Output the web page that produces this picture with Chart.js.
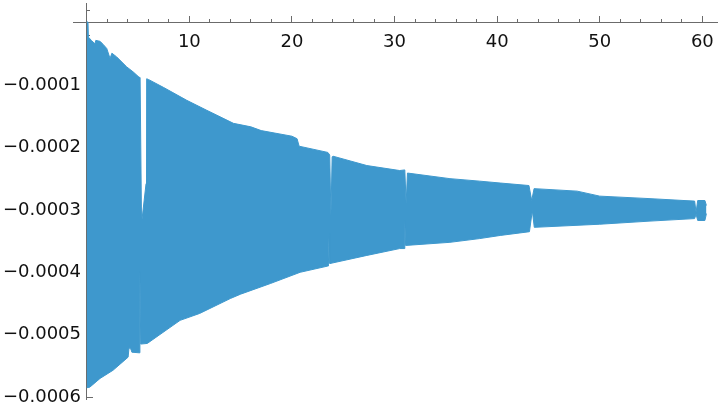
<!DOCTYPE html>
<html>
<head>
<meta charset="utf-8">
<script src="https://cdn.jsdelivr.net/npm/chart.js@4"></script>
<style>
  html, body { margin: 0; padding: 0; background: #fff; }
  #wrap { width: 720px; height: 410px; }
</style>
</head>
<body>
<div id="wrap"><canvas id="signalChart"></canvas></div>
<script>
// upper edge of the oscillation band
const upperX = [0, 0.12, 0.16, 0.45, 0.8, 0.88, 1.3, 1.62, 1.95, 2.27, 2.45, 2.92, 3.25, 3.9, 4.54, 5.1, 5.2,
  5.34, 5.78, 5.84, 6.0, 7.5, 9.75, 11.7, 14.3, 16.0, 17.0, 20.0, 20.5, 20.7, 23.5, 23.68, 23.8, 23.92, 24.0,
  27.3, 30.5, 31.0, 31.13, 31.26, 35.4, 38.3, 40.3, 43.1, 43.37, 43.6, 47.8, 50.0, 54.9, 59.25, 59.39, 59.55,
  60.25, 60.4];
const upperY = [0.000001, 0.000001, -0.0000232, -0.0000285, -0.000034, -0.0000285, -0.00003, -0.0000353,
  -0.0000415, -0.0000575, -0.000049, -0.000055, -0.0000604, -0.000071, -0.0000792, -0.0000875, -0.000088,
  -0.000322, -0.000258, -0.00009, -0.000091, -0.000104, -0.0001245, -0.0001405, -0.0001614, -0.000167,
  -0.000173, -0.000182, -0.000186, -0.000198, -0.000208, -0.000212, -0.000309, -0.000215, -0.000214,
  -0.000229, -0.000237, -0.000236, -0.00029, -0.000241, -0.00025, -0.000254, -0.000257, -0.000261,
  -0.000285, -0.000266, -0.00027, -0.000278, -0.000282, -0.000286, -0.000304, -0.000285, -0.000285,
  -0.000293];

// lower edge of the oscillation band
const lowerX = [0, 0.3, 1.3, 2.56, 4.03, 4.12, 4.3, 4.4, 5.1, 5.18, 5.26, 5.9, 9.1, 11.0, 14.0, 15.0, 17.9,
  20.8, 23.5, 23.55, 23.62, 23.7, 27.3, 30.5, 30.93, 31.0, 31.08, 35.4, 38.3, 40.3, 43.15, 43.43, 43.62,
  50.0, 54.9, 59.25, 59.39, 59.55, 60.25, 60.4];
const lowerY = [-0.000585, -0.000584, -0.00057, -0.000557, -0.000536, -0.000521, -0.000523, -0.000528,
  -0.000529, -0.000398, -0.000515, -0.000514, -0.000477, -0.000466, -0.000442, -0.000435, -0.000418,
  -0.0004, -0.00039, -0.00039, -0.000338, -0.000386, -0.000373, -0.000362, -0.000362, -0.000317,
  -0.000357, -0.000352, -0.000346, -0.000341, -0.000335, -0.000301, -0.000328, -0.000323, -0.000318,
  -0.000314, -0.000307, -0.000317, -0.000317, -0.000306];

const xMajorStep = 10;
const xMinorStep = 2;
const yMajorStep = 0.0001;
const yMinorStep = 0.00002;

const blue = 'rgb(62, 152, 205)';
const axisGray = '#6b6b6b';
const labelFont = { family: 'DejaVu Sans', size: 18 };

const upperPoints = upperX.map((x, i) => ({ x, y: upperY[i] }));
const lowerPoints = lowerX.map((x, i) => ({ x, y: lowerY[i] }));

function axisOpts(step, tickLen, withLabels, pos, min, max, fmt) {
    return {
        type: 'linear',
        position: pos,
        min: min,
        max: max,
        grid: { drawOnChartArea: false, drawTicks: true, tickLength: tickLen, color: axisGray, tickWidth: 1 },
        border: { display: true, color: axisGray, width: 1 },
        ticks: {
            display: withLabels,
            stepSize: step,
            includeBounds: false,
            autoSkip: false,
            maxRotation: 0,
            font: labelFont,
            color: '#111',
            padding: withLabels ? 16 : 0,
            callback: fmt
        },
        // axes sit inside the plot, so they must not push the plot area around
        afterFit: scale => {
            scale.paddingTop = 0;
            scale.paddingBottom = 0;
            scale.paddingLeft = 0;
            scale.paddingRight = 0;
        }
    };
}

const xLabel = v => (Math.abs(v) < 1e-9 ? '' : String(Math.round(v)));
const yLabel = v => (Math.abs(v) < 1e-9 ? '' : '\u2212' + Math.abs(v).toFixed(4) + ' ');

const xMin = -1.34, xMax = 61.43;
const yMin = -0.000603, yMax = 0.0000314;

new Chart(document.getElementById('signalChart'), {
    type: 'line',
    data: {
        datasets: [
            {
                label: 'upper',
                data: upperPoints,
                borderColor: blue,
                borderWidth: 1,
                pointRadius: 0,
                fill: false,
                tension: 0
            },
            {
                label: 'lower',
                data: lowerPoints,
                borderColor: blue,
                backgroundColor: blue,
                borderWidth: 1,
                pointRadius: 0,
                fill: '-1',
                tension: 0
            }
        ]
    },
    options: {
        responsive: true,
        maintainAspectRatio: false,
        animation: false,
        layout: { padding: { left: 73, right: 3, top: 3, bottom: 11 } },
        plugins: { legend: { display: false }, tooltip: { enabled: false } },
        scales: {
            x: axisOpts(xMajorStep, -7, true, { y: 0 }, xMin, xMax, xLabel),
            xMinor: axisOpts(xMinorStep, -4, false, { y: 0 }, xMin, xMax, () => ''),
            y: axisOpts(yMajorStep, -7, true, { x: 0 }, yMin, yMax, yLabel),
            yMinor: axisOpts(yMinorStep, -4, false, { x: 0 }, yMin, yMax, () => '')
        }
    }
});
</script>
</body>
</html>
